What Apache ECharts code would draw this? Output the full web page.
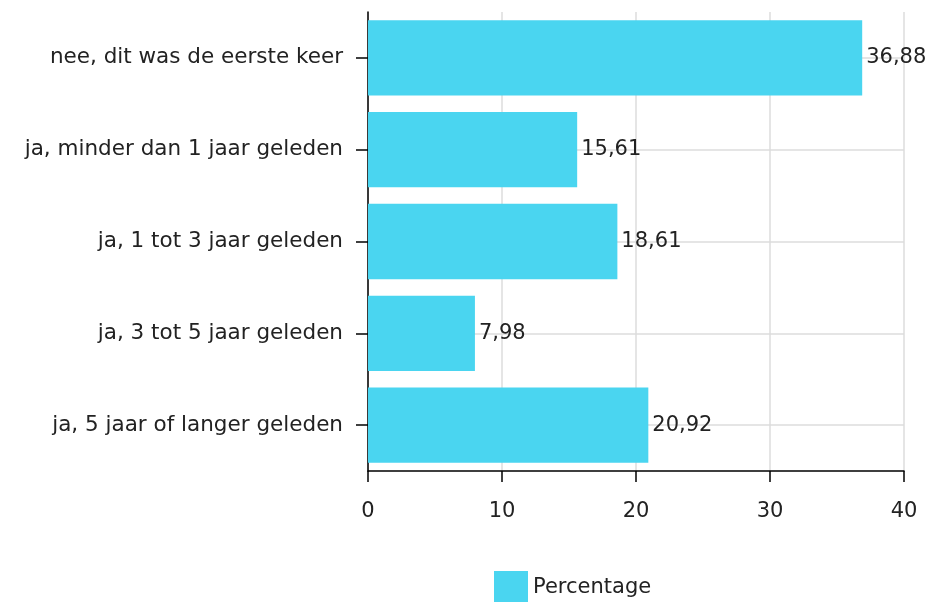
<!DOCTYPE html>
<html>
<head>
<meta charset="utf-8">
<script src="https://cdn.jsdelivr.net/npm/echarts@6/dist/echarts.min.js"></script>
<style>html,body{margin:0;padding:0;background:#fff}#c{width:932px;height:602px}</style>
</head>
<body>
<div id="c"></div>
<script>
const categories = [
  "nee, dit was de eerste keer",
  "ja, minder dan 1 jaar geleden",
  "ja, 1 tot 3 jaar geleden",
  "ja, 3 tot 5 jaar geleden",
  "ja, 5 jaar of langer geleden"
];
const values = [36.88, 15.61, 18.61, 7.98, 20.92];
const seriesName = "Percentage";
const xTicks = [0, 10, 20, 30, 40];

const FONT = "DejaVu Sans";
const chart = echarts.init(document.getElementById('c'), null, {renderer: 'canvas'});
chart.setOption({
  animation: false,
  textStyle: {fontFamily: FONT},
  grid: {left: 368, right: 28, top: 12, bottom: 131, containLabel: false},
  legend: {
    top: 571, left: 494, padding: 0,
    itemWidth: 34, itemHeight: 34, itemGap: 10,
    textStyle: {fontSize: 21, color: '#222', fontFamily: FONT},
    data: [{name: seriesName, icon: 'rect'}]
  },
  xAxis: {
    type: 'value', min: xTicks[0], max: xTicks[xTicks.length - 1], interval: 10,
    axisLine: {show: true, lineStyle: {color: '#000', width: 1.5}},
    axisTick: {show: true, length: 11, lineStyle: {color: '#000', width: 1.5}},
    axisLabel: {fontSize: 21, color: '#222', margin: 30, fontFamily: FONT},
    splitLine: {show: true, lineStyle: {color: '#dcdcdc', width: 1.5}}
  },
  yAxis: {
    type: 'category', inverse: true, data: categories,
    axisLine: {show: true, lineStyle: {color: '#000', width: 1.5}},
    axisTick: {show: true, alignWithLabel: true, length: 12, lineStyle: {color: '#000', width: 1.5}},
    axisLabel: {fontSize: 21.5, color: '#222', margin: 25, fontFamily: FONT},
    splitLine: {show: true, alignWithLabel: true, lineStyle: {color: '#dcdcdc', width: 1.5}}
  },
  series: [{
    name: seriesName, type: 'bar', data: values,
    barCategoryGap: '18%',
    itemStyle: {color: '#4AD5F0'},
    label: {
      show: true, position: 'right', distance: 4,
      fontSize: 21, color: '#222', fontFamily: FONT,
      formatter: p => p.value.toFixed(2).replace('.', ',')
    }
  }]
});
</script>
</body>
</html>
